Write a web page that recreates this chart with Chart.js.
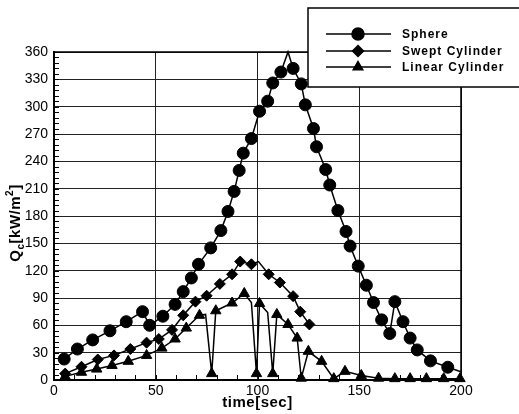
<!DOCTYPE html>
<html>
<head>
<meta charset="utf-8">
<script src="https://cdn.jsdelivr.net/npm/chart.js@4.4.1/dist/chart.umd.min.js"></script>
<style>
html, body { margin: 0; padding: 0; background: #fff; }
</style>
</head>
<body>
<canvas id="qcChart" width="519" height="414"></canvas>
<script>
// values
const sphereT = [5, 11.5, 19, 27.5, 35.5, 43.5, 47, 53.5, 59.5, 63.5, 67.5, 71, 77, 82, 85.5, 88.5, 91, 93, 97, 101,
  105, 107.5, 111.5, 115, 117.5, 121.5, 123.5, 127.5, 129, 133.5, 135.5, 139.5, 143.5, 145.5, 149.5, 153.5, 157, 161, 165, 167.5,
  171.5, 175, 178.5, 185, 193.5, 200];
const sphereQ = [23, 34, 44, 54, 64, 75, 60, 70, 83, 97, 112, 127, 145, 164, 185, 207, 230, 249, 265, 295,
  306, 326, 338, 360, 342, 325, 302, 276, 256, 231, 214, 186, 163, 147, 125, 104, 85, 66, 51, 86,
  64, 46, 33, 21, 14, 9];
const sphereVertexOnly = [115, 200];

const sweptT = [5.5, 13.5, 21.5, 29.5, 37.5, 45.5, 51.5, 58, 63.5, 69.5, 75, 81.5, 87.5, 91.5, 97, 100.5, 105.5, 111, 117.5, 121, 125.5];
const sweptQ = [7, 14.5, 22.5, 27, 34, 41, 45, 55, 71, 86, 92.5, 105.5, 116, 130, 127, 130, 116, 107, 92, 75, 61];
const sweptVertexOnly = [100.5];

const linearT = [5.5, 13.5, 21, 28.5, 36.5, 45.5, 53, 59.5, 65, 71.5, 74.5, 77.5, 79.5, 87.5, 93.5, 97, 99.5, 101, 105, 107.5,
  109.5, 115, 119.5, 121.5, 125, 131.5, 137.5, 143, 151, 159.5, 167.5, 175, 183, 191.5, 199.5];
const linearQ = [4, 8.5, 12, 16, 20.5, 27, 35, 45, 57, 71, 72, 7, 76, 84.5, 95, 85, 7, 84, 74, 7,
  72, 61, 46, 2, 31.5, 20.5, 1.5, 9.5, 5, 2, 1.5, 1.5, 1.5, 1.5, 1.5];
const linearVertexOnly = [74.5, 97, 105];

const seriesNames = ["Sphere", "Swept Cylinder", "Linear Cylinder"];
const xTicks = [0, 50, 100, 150, 200];
const yTicks = [0, 30, 60, 90, 120, 150, 180, 210, 240, 270, 300, 330, 360];

const FONT = "'Liberation Sans', Arial, sans-serif";

function makeSet(label, ts, qs, noMark, style, radius) {
  return {
    label: label,
    data: ts.map((t, i) => ({ x: t, y: qs[i] })),
    showLine: true,
    borderColor: "#000",
    backgroundColor: "#000",
    borderWidth: 1.5,
    pointStyle: style,
    pointRadius: ts.map(t => noMark.includes(t) ? 0 : radius),
    pointBorderWidth: 1,
    tension: 0,
    clip: false
  };
}

// inward minor ticks on left and bottom axes
const minorTicks = {
  id: "minorTicks",
  beforeDatasetsDraw(chart) {
    const ctx = chart.ctx;
    const xs = chart.scales.x, ys = chart.scales.y;
    const a = chart.chartArea;
    ctx.save();
    ctx.strokeStyle = "#000";
    ctx.lineWidth = 1;
    ctx.beginPath();
    for (let v = 0; v <= 360; v += 6) {
      const py = Math.round(ys.getPixelForValue(v)) + 0.5;
      ctx.moveTo(a.left, py);
      ctx.lineTo(a.left + 5, py);
    }
    for (let v = 0; v <= 200; v += 10) {
      const px = Math.round(xs.getPixelForValue(v)) + 0.5;
      ctx.moveTo(px, a.bottom);
      ctx.lineTo(px, a.bottom - 5);
    }
    ctx.stroke();
    ctx.lineWidth = 1.5;
    ctx.strokeRect(a.left, a.top, a.right - a.left, a.bottom - a.top);
    ctx.restore();
  }
};

// axis titles and boxed legend
const decorations = {
  id: "decorations",
  afterDraw(chart) {
    const ctx = chart.ctx;
    const a = chart.chartArea;
    ctx.save();
    ctx.fillStyle = "#000";

    // x title
    ctx.font = "bold 15px " + FONT;
    ctx.letterSpacing = "0.5px";
    ctx.textAlign = "center";
    ctx.textBaseline = "middle";
    ctx.fillText("time[sec]", (a.left + a.right) / 2, 403);

    // y title: Q_c[kW/m^2]
    ctx.save();
    ctx.translate(15, 223);
    ctx.rotate(-Math.PI / 2);
    ctx.textAlign = "left";
    ctx.textBaseline = "alphabetic";
    ctx.letterSpacing = "0.5px";
    const parts = [
      { t: "Q", f: "bold 15px ", dy: 0 },
      { t: "c", f: "bold 10px ", dy: 4 },
      { t: "[kW/m", f: "bold 15px ", dy: 0 },
      { t: "2", f: "bold 10px ", dy: -7 },
      { t: "]", f: "bold 15px ", dy: 0 }
    ];
    let total = 0;
    parts.forEach(p => { ctx.font = p.f + FONT; p.w = ctx.measureText(p.t).width; total += p.w; });
    let cx = -total / 2;
    parts.forEach(p => {
      ctx.font = p.f + FONT;
      ctx.fillText(p.t, cx, 5 + p.dy);
      cx += p.w;
    });
    ctx.restore();

    // legend box
    ctx.fillStyle = "#fff";
    ctx.fillRect(308, 8, 230, 79);
    ctx.strokeStyle = "#000";
    ctx.lineWidth = 1.5;
    ctx.strokeRect(308, 8, 230, 79);
    const rows = [34, 51, 67];
    chart.data.datasets.forEach((ds, i) => {
      const y = rows[i];
      ctx.strokeStyle = "#000";
      ctx.lineWidth = 1.5;
      ctx.beginPath();
      ctx.moveTo(326, y);
      ctx.lineTo(391, y);
      ctx.stroke();
      ctx.fillStyle = "#000";
      Chart.helpers.drawPoint(ctx, {
        pointStyle: ds.pointStyle,
        radius: ds.pointStyle === "circle" ? 6 : 5.5,
        rotation: 0,
        borderWidth: 1
      }, 358, y);
      ctx.font = "bold 12px " + FONT;
      ctx.letterSpacing = "1px";
      ctx.textAlign = "left";
      ctx.textBaseline = "middle";
      ctx.fillText(ds.label, 402, y + 1);
    });
    ctx.restore();
  }
};

new Chart(document.getElementById("qcChart"), {
  type: "scatter",
  data: {
    datasets: [
      makeSet(seriesNames[0], sphereT, sphereQ, sphereVertexOnly, "circle", 6),
      makeSet(seriesNames[1], sweptT, sweptQ, sweptVertexOnly, "rectRot", 5.5),
      makeSet(seriesNames[2], linearT, linearQ, linearVertexOnly, "triangle", 6)
    ]
  },
  options: {
    responsive: false,
    animation: false,
    layout: { padding: { top: 52, right: 58, left: 0, bottom: 0 } },
    plugins: { legend: { display: false }, tooltip: { enabled: false } },
    scales: {
      x: {
        type: "linear",
        min: 0,
        max: 200,
        afterFit(scale) { scale.height = 34; },
        afterBuildTicks(scale) { scale.ticks = xTicks.map(v => ({ value: v })); },
        ticks: { color: "#000", padding: 3, maxRotation: 0, font: { family: FONT, size: 14 } },
        grid: { color: "#222", lineWidth: 1, drawTicks: false },
        border: { color: "#000", width: 2 }
      },
      y: {
        type: "linear",
        min: 0,
        max: 360,
        afterFit(scale) { scale.width = 54; },
        afterBuildTicks(scale) { scale.ticks = yTicks.map(v => ({ value: v })); },
        ticks: { color: "#000", padding: 6, font: { family: FONT, size: 14 } },
        grid: { color: "#222", lineWidth: 1, drawTicks: false },
        border: { color: "#000", width: 2 }
      }
    }
  },
  plugins: [minorTicks, decorations]
});
</script>
</body>
</html>
